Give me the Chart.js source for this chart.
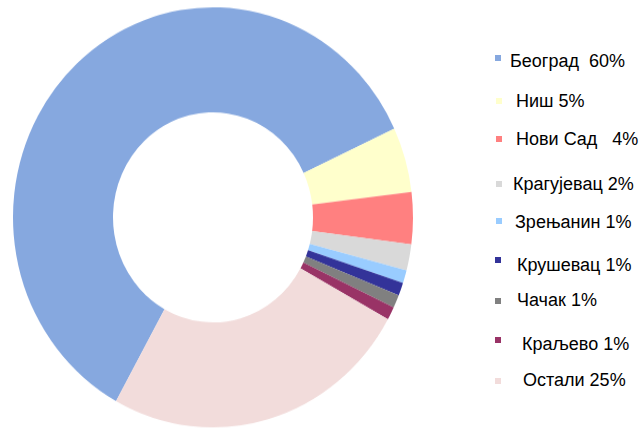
<!DOCTYPE html>
<html>
<head>
<meta charset="utf-8">
<script src="https://cdn.jsdelivr.net/npm/chart.js@4.4.0/dist/chart.umd.min.js"></script>
<style>
  body { margin: 0; background: #fff; width: 641px; height: 428px; overflow: hidden; position: relative; }
  #wrap { position: absolute; left: 0; top: 0; transform: scaleY(1.05); transform-origin: 0 0; }
  #legend { position: absolute; left: 0; top: 0; font-family: "Liberation Sans", Arial, sans-serif; font-size: 18px; color: #000; }
  .box { position: absolute; width: 6px; height: 6px; }
  .txt { position: absolute; line-height: 20px; white-space: pre; }
</style>
</head>
<body>
<div id="wrap"><canvas id="donut" width="426" height="413"></canvas></div>
<div id="legend"></div>
<script>
// cities and their share
var cities = ['Београд', 'Ниш', 'Нови Сад', 'Крагујевац', 'Зрењанин', 'Крушевац', 'Чачак', 'Краљево', 'Остали'];
var shares = [60, 5, 4, 2, 1, 1, 1, 1, 25];
var gaps = ['  ', ' ', '   ', ' ', ' ', ' ', ' ', ' ', ' '];
var colors = ['#86a8df', '#ffffcc', '#ff8080', '#d9d9d9', '#99ccff', '#333399', '#808080', '#993366', '#f2dcdb'];

// legend placement (marker x, marker y, text x, text y) - the original is hand placed
var markX = [495, 496, 496, 496, 496, 495, 495, 495, 495];
var markY = [58, 101, 139, 184, 221, 260, 301, 340, 381];
var textX = [510, 516, 516, 513, 515, 517, 517, 522, 523];
var textY = [61, 101, 139, 184, 222, 265, 300, 344, 380];

var labels = cities.map(function(c, i) { return c + gaps[i] + shares[i] + '%'; });

var chart = new Chart(document.getElementById('donut'), {
  type: 'doughnut',
  data: {
    labels: labels,
    datasets: [{
      data: shares,
      backgroundColor: colors,
      borderWidth: 0
    }]
  },
  options: {
    responsive: false,
    animation: false,
    rotation: 209,
    cutout: '50%',
    layout: { padding: { left: 13, right: 13, top: 7, bottom: 6 } },
    plugins: {
      legend: { display: false },
      tooltip: { enabled: false }
    }
  }
});

// build the legend from the chart's own (doughnut) legend items
var items = chart.options.plugins.legend.labels.generateLabels(chart);
var legend = document.getElementById('legend');
items.forEach(function(item, i) {
  var b = document.createElement('div');
  b.className = 'box';
  b.style.background = item.fillStyle;
  b.style.left = markX[i] + 'px';
  b.style.top = (markY[i] - 3) + 'px';
  legend.appendChild(b);
  var t = document.createElement('div');
  t.className = 'txt';
  t.textContent = item.text;
  t.style.left = textX[i] + 'px';
  t.style.top = (textY[i] - 10) + 'px';
  legend.appendChild(t);
});
</script>
</body>
</html>
